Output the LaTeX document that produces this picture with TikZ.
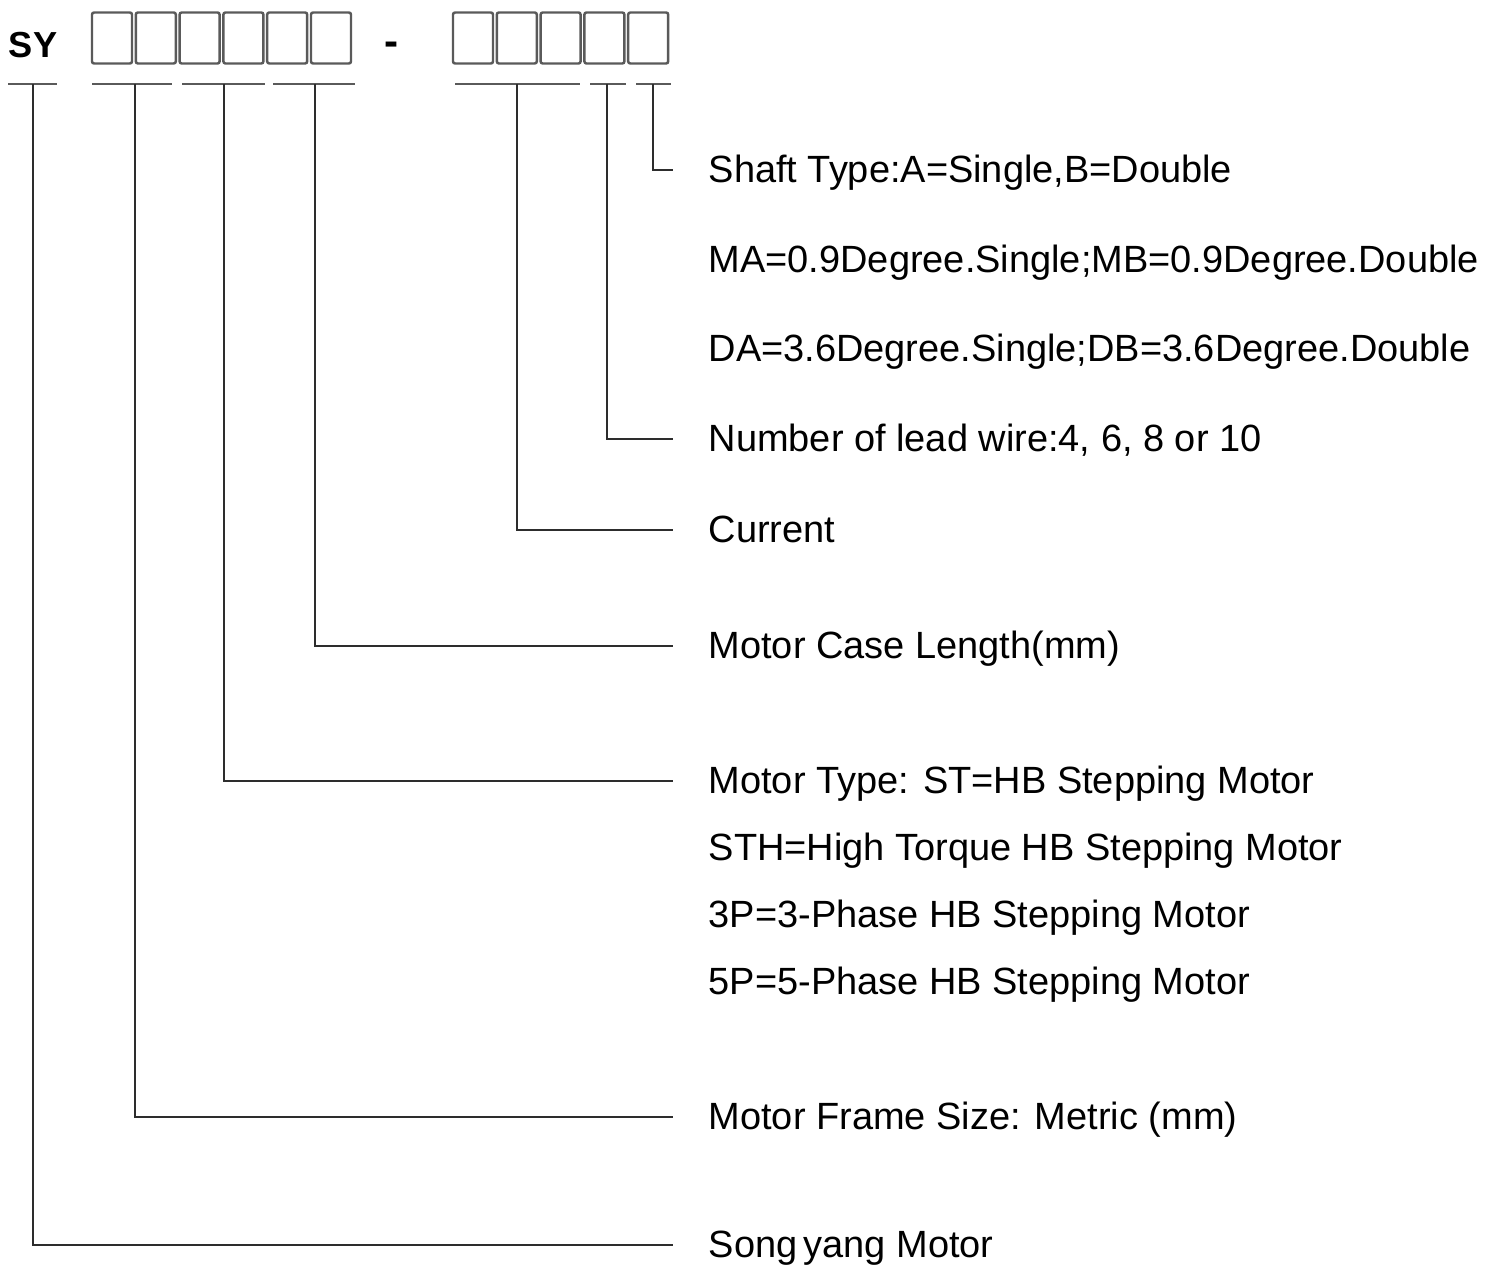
\documentclass[tikz,border=0pt]{standalone}
\usepackage{fontspec}
\setmainfont{Liberation Sans}
\usepackage{xcolor}
\definecolor{boxgray}{RGB}{90,90,90}
\definecolor{linegray}{RGB}{45,45,45}
\newcommand{\descfont}{\fontsize{10.8}{13}\selectfont}

\begin{document}
\begin{tikzpicture}[
  x=0.1mm, y=-0.1mm, font=\descfont,
  digit/.style={draw=boxgray, line width=0.7pt, rounded corners=0.6pt,
    minimum width=4mm, minimum height=5.1mm, inner sep=0pt},
  uline/.style={draw=boxgray, line width=0.8pt},
  lead/.style={draw=linegray, line width=0.6pt, shorten >=3.5mm},
  descr/.style={anchor=west, inner sep=0pt, text height=0.72em, text depth=0pt}
]
\useasboundingbox (0,0) rectangle (1501,1267);

%% ── Model code ───────────────────────────────────────────────────────────────
\node[font=\fontsize{10.3}{12}\selectfont\bfseries, inner sep=0pt] (sy) at (33,45) {SY};
\foreach \i in {0,...,5}
  \node[digit] (a\i) at (112+43.8*\i,38) {};
\node[font=\fontsize{12}{14}\selectfont\bfseries, inner sep=0pt] (dash) at (392,49) {-};
\foreach \i in {0,...,4}
  \node[digit] (b\i) at (473+43.8*\i,38) {};

%% ── Underlines ───────────────────────────────────────────────────────────────
\draw[uline] (8,84)   -- (57,84);
\draw[uline] (92,84)  -- (172,84);
\draw[uline] (182,84) -- (265,84);
\draw[uline] (273,84) -- (355,84);
\draw[uline] (455,84) -- (580,84);
\draw[uline] (590,84) -- (626,84);
\draw[uline] (636,84) -- (671,84);

\coordinate (usy)    at (33,84);
\coordinate (uframe) at (135,84);
\coordinate (utype)  at (224,84);
\coordinate (ucase)  at (315,84);
\coordinate (ucur)   at (517,84);
\coordinate (uwire)  at (607,84);
\coordinate (ushaft) at (653,84);

%% ── Descriptions ─────────────────────────────────────────────────────────────
\node[descr] (shaft) at (708,170)  {Shaft Type:A=Single,B=Double};
\node[descr] (ma)    at (708,260)  {MA=0.9Degree.Single;MB=0.9Degree.Double};
\node[descr] (da)    at (708,349)  {DA=3.6Degree.Single;DB=3.6Degree.Double};
\node[descr] (wire)  at (708,439)  {Number of lead wire:4, 6, 8 or 10};
\node[descr] (cur)   at (708,530)  {Current};
\node[descr] (case)  at (708,646)  {Motor Case Length(mm)};
\node[descr] (type)  at (708,781)  {Motor Type: ST=HB Stepping Motor};
\node[descr] (sth)   at (708,848)  {STH=High Torque HB Stepping Motor};
\node[descr] (p3)    at (708,915)  {3P=3-Phase HB Stepping Motor};
\node[descr] (p5)    at (708,982)  {5P=5-Phase HB Stepping Motor};
\node[descr] (frame) at (708,1117) {Motor Frame Size: Metric (mm)};
\node[descr] (song)  at (708,1245) {Song\,yang Motor};

%% ── Leader lines ─────────────────────────────────────────────────────────────
\draw[lead] (ushaft) |- (shaft.west);
\draw[lead] (uwire)  |- (wire.west);
\draw[lead] (ucur)   |- (cur.west);
\draw[lead] (ucase)  |- (case.west);
\draw[lead] (utype)  |- (type.west);
\draw[lead] (uframe) |- (frame.west);
\draw[lead] (usy)    |- (song.west);

\end{tikzpicture}
\end{document}
